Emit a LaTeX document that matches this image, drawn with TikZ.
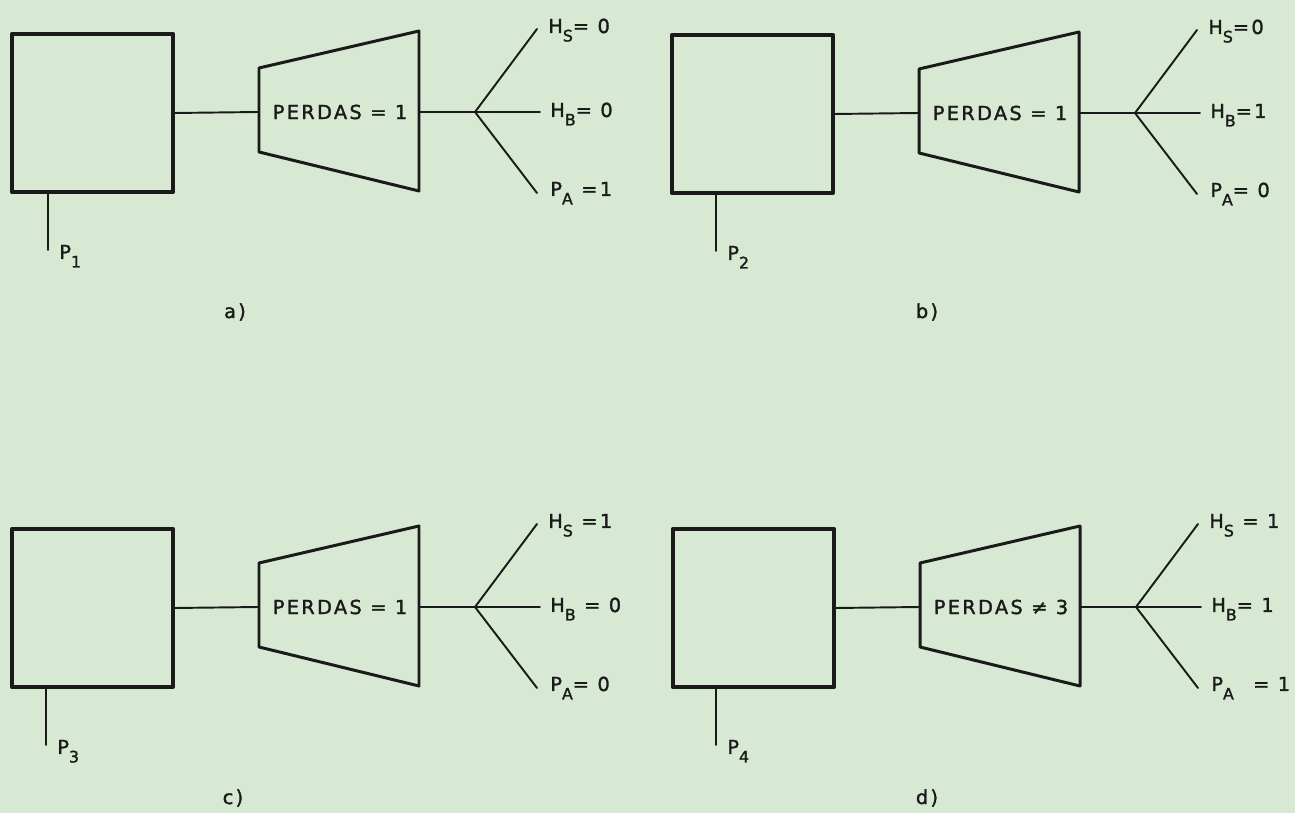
\documentclass[tikz,border=0pt]{standalone}
\usepackage{fontspec}
\setmainfont{DejaVu Sans}[LetterSpace=12,FakeBold=1.6]
\usepackage{tikz}
\definecolor{papel}{RGB}{216,233,211}
\definecolor{tinta}{RGB}{26,26,26}
\newcommand{\sbx}[1]{\raisebox{-0.8ex}{\small #1}}

\begin{document}
\begin{tikzpicture}[x=0.02cm,y=-0.02cm,join=round,line cap=round,
  font=\fontsize{11}{13}\selectfont,
  bloco/.style={draw=tinta,line width=2.1pt,inner sep=0pt,minimum width=91.8pt,minimum height=90.1pt},
  fio/.style={draw=tinta,line width=1.1pt},
  rotulo/.style={text=tinta,inner sep=0pt,anchor=base west}]
\useasboundingbox (0,0) rectangle (1295,813);
\fill[papel] (0,0) rectangle (1295,813);
% n / origem x,y / pe x / legenda x,y / legenda / perdas / HS / HB / PA
\foreach \n/\ox/\oy/\px/\cx/\cy/\leg/\perda/\hs/\hb/\pa in {
  1/10/32/38/225/280/a/{= 1}/{= 0}/{= 0}/{ =1},
  2/670/33/46/257/279/b/{= 1}/{=0}/{=1}/{= 0},
  3/10/527/36/223/271/c/{= 1}/{ =1}/{ = 0}/{= 0},
  4/671/527/45/256/271/d/{≠ 3}/{ = 1}/{= 1}/{\quad = 1}}{
  \node[bloco,anchor=north west] (caixa\n) at (\ox,\oy) {};
  \draw[tinta,line width=1.7pt] (\ox+249,\oy+36)--(\ox+409,\oy-1)--(\ox+409,\oy+159)--(\ox+249,\oy+120)--cycle;
  \node[text=tinta,inner sep=0pt] (perdas\n) at (\ox+330,\oy+80) {PERDAS \perda};
  \coordinate (entra\n) at (\ox+249,\oy+80);
  \coordinate (sai\n) at (\ox+409,\oy+80);
  \coordinate (no\n) at (\ox+465,\oy+80);
  \coordinate (hs\n) at (\ox+527,\oy-3);
  \coordinate (hb\n) at (\ox+530,\oy+80);
  \coordinate (pa\n) at (\ox+527,\oy+161);
  \draw[fio] (caixa\n.east)--(entra\n);
  \draw[fio] (sai\n)--(no\n);
  \draw[fio] (no\n)--(hs\n);
  \draw[fio] (no\n)--(hb\n);
  \draw[fio] (no\n)--(pa\n);
  \node[rotulo] (rhs\n) at (\ox+538,\oy+1) {H\sbx{S}\hs};
  \node[rotulo] (rhb\n) at (\ox+540,\oy+85) {H\sbx{B}\hb};
  \node[rotulo] (rpa\n) at (\ox+540,\oy+164) {P\sbx{A}\pa};
  % saida de potencia
  \coordinate (pe\n) at (\ox+\px,\oy+218);
  \draw[fio] (pe\n |- caixa\n.south)--(pe\n);
  \node[rotulo] (rp\n) at (\ox+\px+11,\oy+227) {P\sbx{\n}};
  \node[text=tinta] (leg\n) at (\ox+\cx,\oy+\cy) {\leg)};
}
\end{tikzpicture}
\end{document}
